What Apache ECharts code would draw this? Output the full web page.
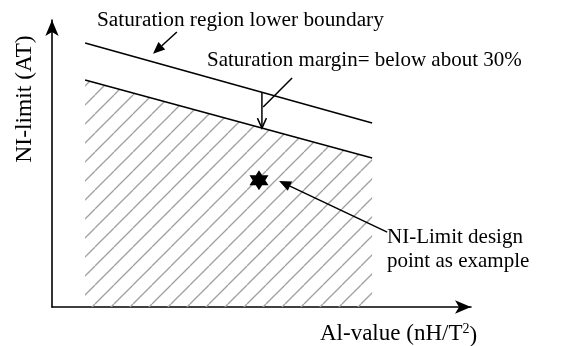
<!DOCTYPE html>
<html>
<head>
<meta charset="utf-8">
<script src="https://cdn.jsdelivr.net/npm/echarts@6/dist/echarts.min.js"></script>
<style>
  html, body { margin: 0; padding: 0; background: #fff; }
  #chart { width: 570px; height: 346px; }
</style>
</head>
<body>
<div id="chart"></div>
<script>
// AL-value at the two ends of the boundary lines
const alValues = [7.9, 76.4];
// Lower boundary of the saturation region (NI-limit)
const saturationBoundary = [92, 64.1];
// NI-limit design line, about 30% below saturation
const designLimit = [79.1, 51.9];
// Example design point [AL-value, NI-limit]
const designPoint = [49.4, 44.2];
// AL-value where the saturation margin is marked
const marginAt = 50.1;

const FONT = '"Liberation Serif", "Times New Roman", serif';

// value of a straight boundary at a given AL-value
function lineAt(ys, x) {
  const t = (x - alValues[0]) / (alValues[1] - alValues[0]);
  return ys[0] + t * (ys[1] - ys[0]);
}

// diagonal hatching used inside the allowed region
function hatchPattern() {
  const s = 19;
  const c = document.createElement('canvas');
  c.width = s; c.height = s;
  const g = c.getContext('2d');
  g.strokeStyle = '#a0a0a0';
  g.lineWidth = 1.3;
  for (let k = -1; k <= 1; k++) {
    g.beginPath();
    g.moveTo(k * s, s);
    g.lineTo(k * s + s, 0);
    g.stroke();
  }
  return c;
}

const hexagram = 'path://M0,-10L2.89,-5L8.66,-5L5.77,0L8.66,5L2.89,5L0,10L-2.89,5L-8.66,5L-5.77,0L-8.66,-5L-2.89,-5Z';

// leader arrows in data space: [x1, y1, x2, y2, kind]
// kind 0 = filled head, 1 = open head, 2 = plain line
const arrows = [
  [29.8, 95.8, 24.1, 88.2, 0],
  [57.3, 79.8, marginAt + 0.3, 69.7, 2],
  [80.0, 26.1, 54.2, 43.9, 0],
  [marginAt, lineAt(saturationBoundary, marginAt), marginAt, lineAt(designLimit, marginAt), 1]
];

function renderArrow(params, api) {
  const p1 = api.coord([api.value(0), api.value(1)]);
  const p2 = api.coord([api.value(2), api.value(3)]);
  const kind = api.value(4);
  const style = { stroke: '#000', lineWidth: 1.5, fill: null };
  if (kind === 2) {
    return { type: 'line', shape: { x1: p1[0], y1: p1[1], x2: p2[0], y2: p2[1] }, style: style };
  }
  const dx = p2[0] - p1[0], dy = p2[1] - p1[1];
  const d = Math.hypot(dx, dy);
  const ux = dx / d, uy = dy / d;
  const len = kind === 1 ? 10 : 12, half = kind === 1 ? 4.5 : 5;
  const bx = p2[0] - ux * len, by = p2[1] - uy * len;
  const left = [bx - uy * half, by + ux * half];
  const right = [bx + uy * half, by - ux * half];
  const children = [];
  if (kind === 1) {
    children.push({ type: 'line', shape: { x1: p1[0], y1: p1[1], x2: p2[0], y2: p2[1] }, style: style });
    children.push({ type: 'polyline', shape: { points: [left, p2, right] }, style: style });
  } else {
    children.push({ type: 'line', shape: { x1: p1[0], y1: p1[1], x2: bx, y2: by }, style: style });
    children.push({ type: 'polygon', shape: { points: [left, p2, right] }, style: { fill: '#000' } });
  }
  return { type: 'group', children: children };
}

const chart = echarts.init(document.getElementById('chart'), null, { renderer: 'canvas' });

const axisCommon = {
  type: 'value', min: 0, max: 100,
  axisLine: { show: true, lineStyle: { color: '#000', width: 1.6 }, symbol: ['none', 'arrow'], symbolSize: [10, 16] },
  axisTick: { show: false }, axisLabel: { show: false }, splitLine: { show: false }
};

chart.setOption({
  animation: false,
  backgroundColor: '#fff',
  grid: { left: 52, top: 20, right: 99, bottom: 39 },
  xAxis: Object.assign({}, axisCommon),
  yAxis: Object.assign({}, axisCommon),
  series: [
    {
      type: 'line',
      data: alValues.map((x, i) => [x, saturationBoundary[i]]),
      symbol: 'none',
      lineStyle: { color: '#000', width: 1.5 }
    },
    {
      type: 'line',
      data: alValues.map((x, i) => [x, designLimit[i]]),
      symbol: 'none',
      lineStyle: { color: '#000', width: 1.5 },
      areaStyle: { color: { image: hatchPattern(), repeat: 'repeat' }, opacity: 1, origin: 'start' }
    },
    {
      type: 'scatter',
      data: [designPoint],
      symbol: hexagram,
      symbolSize: [19, 20],
      itemStyle: { color: '#000', opacity: 1 },
      z: 5
    },
    {
      type: 'custom',
      data: arrows,
      renderItem: renderArrow,
      clip: false,
      z: 6
    }
  ],
  graphic: [
    { type: 'text', x: 97, y: 20, style: { text: 'Saturation region lower boundary', font: '21.3px ' + FONT, fill: '#000', align: 'left', verticalAlign: 'middle', textAlign: 'left', textVerticalAlign: 'middle' } },
    { type: 'text', x: 207, y: 60, style: { text: 'Saturation margin= below about 30%', font: '21px ' + FONT, fill: '#000', align: 'left', verticalAlign: 'middle', textAlign: 'left', textVerticalAlign: 'middle' } },
    { type: 'text', x: 387, y: 249, style: { text: 'NI-Limit design\npoint as example', font: '21px ' + FONT, lineHeight: 24, fill: '#000', align: 'left', verticalAlign: 'middle', textAlign: 'left', textVerticalAlign: 'middle' } },
    { type: 'text', x: 320, y: 334, style: {
        text: 'Al-value (nH/T{sup|2}{p|)}', font: '23px ' + FONT, fill: '#000', align: 'left', verticalAlign: 'middle', textAlign: 'left', textVerticalAlign: 'middle',
        rich: {
          sup: { fontSize: 14, fontFamily: FONT, fill: '#000', verticalAlign: 'bottom', padding: [0, 0, 11, 0], lineHeight: 16 },
          p: { fontSize: 23, fontFamily: FONT, fill: '#000', verticalAlign: 'bottom', lineHeight: 27 }
        }
      } },
    { type: 'text', x: 25, y: 99, rotation: Math.PI / 2, style: { text: 'NI-limit (AT)', font: '23.5px ' + FONT, fill: '#000', align: 'center', verticalAlign: 'middle', textAlign: 'center', textVerticalAlign: 'middle' } }
  ]
});
</script>
</body>
</html>
